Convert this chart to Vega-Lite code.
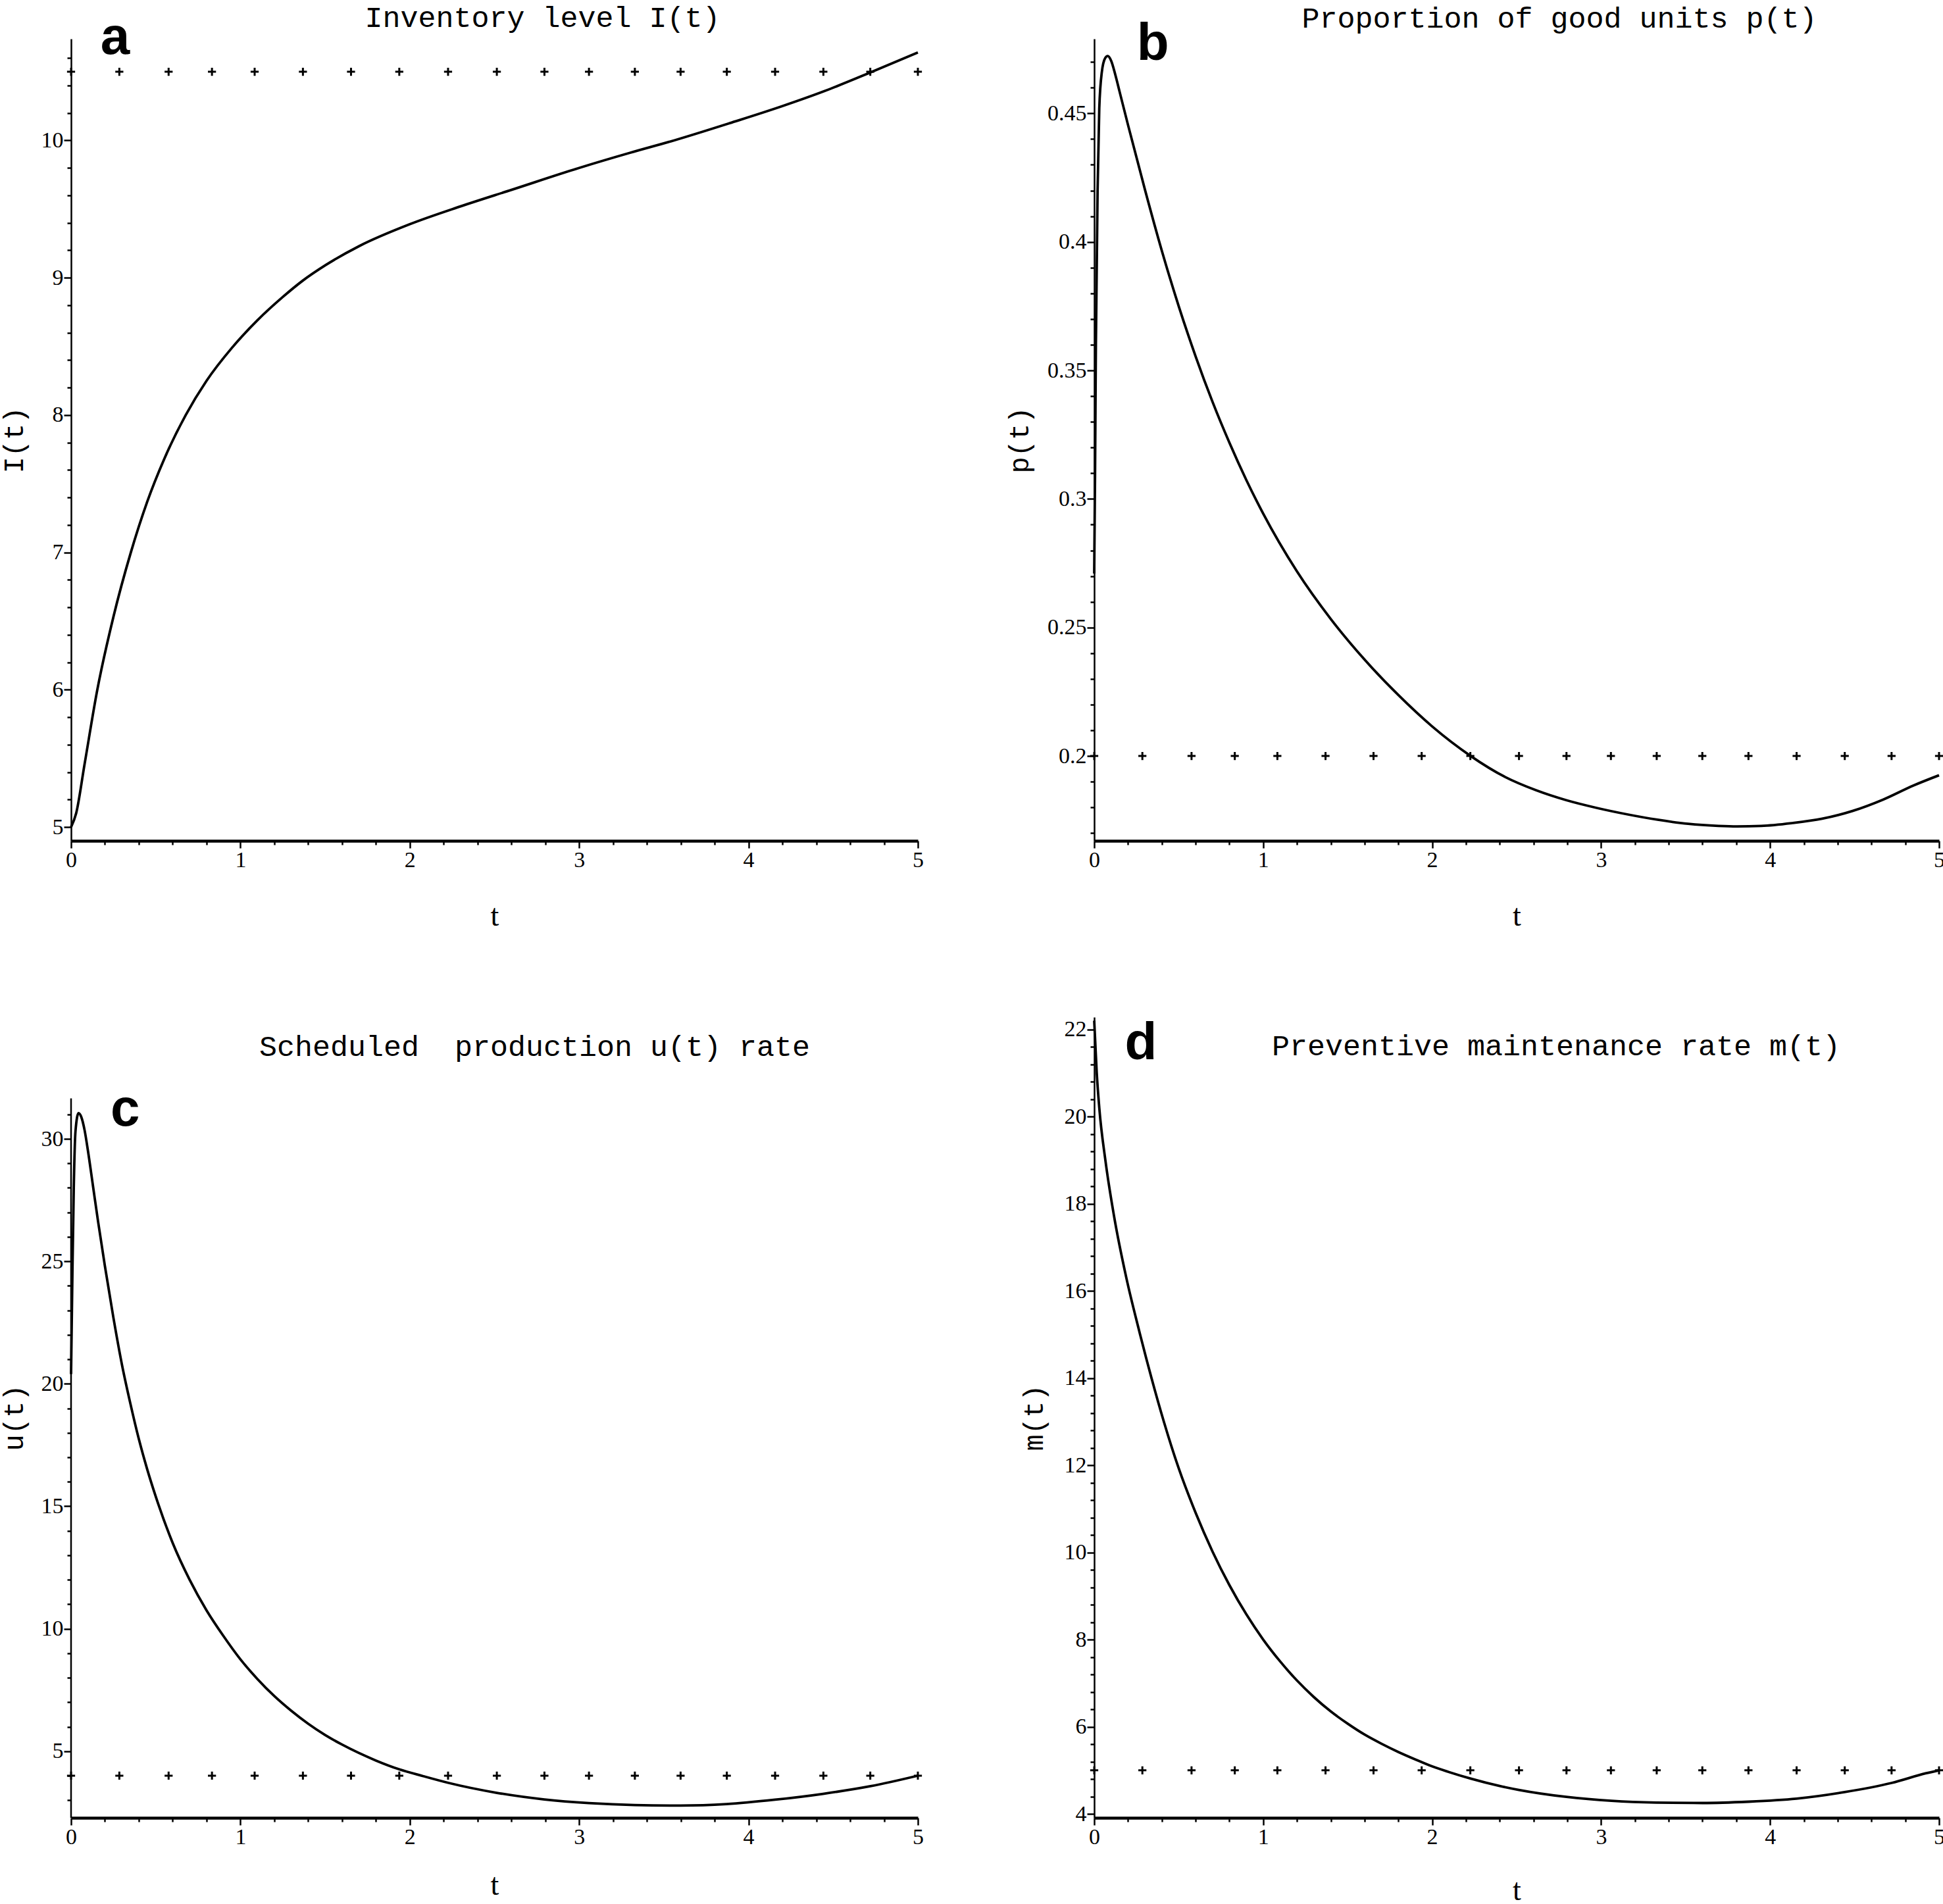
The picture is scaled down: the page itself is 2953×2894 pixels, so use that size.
{
  "$schema": "https://vega.github.io/schema/vega-lite/v6.json",
  "background": "white",
  "padding": {"left": 0, "top": 4, "right": 0, "bottom": 0},
  "columns": 2,
  "spacing": 268,
  "bounds": "flush",
  "config": {
    "view": {"stroke": null},
    "axis": {
      "grid": false,
      "domainColor": "black",
      "tickColor": "black",
      "labelColor": "black",
      "titleColor": "black",
      "labelFont": "Liberation Serif",
      "labelFontSize": 34,
      "labelOverlap": false,
      "labelFlush": false,
      "labelBound": false,
      "tickWidth": 2.5,
      "labelPadding": 1,
      "format": "~g"
    },
    "axisX": {
      "domainWidth": 4.5,
      "titleFont": "Liberation Serif",
      "titleFontSize": 46,
      "titleFontWeight": "normal",
      "titleBaseline": "alphabetic",
      "titleY": 128
    },
    "axisY": {
      "domainWidth": 2.5,
      "titleFont": "Liberation Mono",
      "titleFontSize": 42,
      "titleFontWeight": "normal",
      "titleBaseline": "middle"
    },
    "title": {
      "font": "Liberation Mono",
      "fontSize": 45,
      "fontWeight": "normal",
      "anchor": "middle",
      "frame": "group",
      "baseline": "alphabetic",
      "color": "black"
    }
  },
  "datasets": {
    "curveA": [
      {"t": 0, "v": 5.0}, {"t": 0.03, "v": 5.1}, {"t": 0.08, "v": 5.46}, {"t": 0.155, "v": 6.0}, {"t": 0.25, "v": 6.53},
      {"t": 0.353, "v": 7.0}, {"t": 0.45, "v": 7.37}, {"t": 0.55, "v": 7.68}, {"t": 0.677, "v": 8.0}, {"t": 0.8, "v": 8.25},
      {"t": 0.95, "v": 8.49}, {"t": 1.1, "v": 8.69}, {"t": 1.25, "v": 8.86}, {"t": 1.369, "v": 8.98}, {"t": 1.5, "v": 9.09},
      {"t": 1.7, "v": 9.23}, {"t": 2.0, "v": 9.39}, {"t": 2.3, "v": 9.52}, {"t": 2.6, "v": 9.64}, {"t": 3.0, "v": 9.8},
      {"t": 3.3, "v": 9.91}, {"t": 3.56, "v": 10.0}, {"t": 3.9, "v": 10.13}, {"t": 4.2, "v": 10.25}, {"t": 4.45, "v": 10.36},
      {"t": 4.73, "v": 10.5}, {"t": 5.0, "v": 10.64}
    ],
    "curveB": [
      {"t": 0, "v": 0.271}, {"t": 0.005, "v": 0.31}, {"t": 0.01, "v": 0.36}, {"t": 0.02, "v": 0.42}, {"t": 0.03, "v": 0.452},
      {"t": 0.045, "v": 0.466}, {"t": 0.065, "v": 0.4715}, {"t": 0.08, "v": 0.4723}, {"t": 0.1, "v": 0.4705}, {"t": 0.125, "v": 0.465},
      {"t": 0.15, "v": 0.4585}, {"t": 0.2, "v": 0.4455}, {"t": 0.3, "v": 0.4204}, {"t": 0.4, "v": 0.3966}, {"t": 0.5, "v": 0.375},
      {"t": 0.6, "v": 0.3555}, {"t": 0.7, "v": 0.3378}, {"t": 0.8, "v": 0.3219}, {"t": 0.9, "v": 0.3074}, {"t": 1.0, "v": 0.2943},
      {"t": 1.2, "v": 0.2718}, {"t": 1.4, "v": 0.2533}, {"t": 1.6, "v": 0.2375}, {"t": 1.8, "v": 0.2237}, {"t": 2.0, "v": 0.2115},
      {"t": 2.228, "v": 0.2}, {"t": 2.433, "v": 0.1918}, {"t": 2.614, "v": 0.1867}, {"t": 2.794, "v": 0.1828}, {"t": 2.974, "v": 0.1798},
      {"t": 3.154, "v": 0.1773}, {"t": 3.334, "v": 0.1752}, {"t": 3.515, "v": 0.1736}, {"t": 3.695, "v": 0.1728}, {"t": 3.803, "v": 0.1726},
      {"t": 3.947, "v": 0.1728}, {"t": 4.128, "v": 0.1739}, {"t": 4.308, "v": 0.1756}, {"t": 4.488, "v": 0.1786}, {"t": 4.668, "v": 0.183},
      {"t": 4.848, "v": 0.1885}, {"t": 5.0, "v": 0.1925}
    ],
    "curveC": [
      {"t": 0, "v": 20.4}, {"t": 0.008, "v": 24.5}, {"t": 0.016, "v": 28.0}, {"t": 0.026, "v": 30.3}, {"t": 0.044, "v": 31.05},
      {"t": 0.06, "v": 30.9}, {"t": 0.08, "v": 30.35}, {"t": 0.1, "v": 29.5}, {"t": 0.13, "v": 28.05}, {"t": 0.16, "v": 26.6},
      {"t": 0.2, "v": 24.8}, {"t": 0.25, "v": 22.7}, {"t": 0.3, "v": 20.8}, {"t": 0.35, "v": 19.2}, {"t": 0.4, "v": 17.75},
      {"t": 0.45, "v": 16.5}, {"t": 0.5, "v": 15.4}, {"t": 0.6, "v": 13.5}, {"t": 0.7, "v": 12.0}, {"t": 0.8, "v": 10.75},
      {"t": 0.9, "v": 9.7}, {"t": 1.0, "v": 8.75}, {"t": 1.1, "v": 7.95}, {"t": 1.2, "v": 7.25}, {"t": 1.3, "v": 6.65},
      {"t": 1.4, "v": 6.12}, {"t": 1.5, "v": 5.66}, {"t": 1.6, "v": 5.27}, {"t": 1.8, "v": 4.62}, {"t": 1.938, "v": 4.26},
      {"t": 2.08, "v": 3.98}, {"t": 2.226, "v": 3.71}, {"t": 2.514, "v": 3.3}, {"t": 2.795, "v": 3.03}, {"t": 3.058, "v": 2.88},
      {"t": 3.329, "v": 2.8}, {"t": 3.6, "v": 2.78}, {"t": 3.87, "v": 2.84}, {"t": 4.157, "v": 3.02}, {"t": 4.44, "v": 3.26},
      {"t": 4.72, "v": 3.57}, {"t": 5.0, "v": 4.0}
    ],
    "curveD": [
      {"t": 0, "v": 22.2}, {"t": 0.015, "v": 21.0}, {"t": 0.03, "v": 20.2}, {"t": 0.066, "v": 19.0}, {"t": 0.118, "v": 17.7},
      {"t": 0.19, "v": 16.3}, {"t": 0.265, "v": 15.1}, {"t": 0.339, "v": 14.0}, {"t": 0.412, "v": 13.0}, {"t": 0.5, "v": 11.93},
      {"t": 0.6, "v": 10.91}, {"t": 0.7, "v": 10.02}, {"t": 0.8, "v": 9.25}, {"t": 0.9, "v": 8.58}, {"t": 1.0, "v": 8.0},
      {"t": 1.1, "v": 7.5}, {"t": 1.2, "v": 7.06}, {"t": 1.3, "v": 6.68}, {"t": 1.4, "v": 6.35}, {"t": 1.5, "v": 6.07},
      {"t": 1.6, "v": 5.82}, {"t": 1.7, "v": 5.61}, {"t": 1.8, "v": 5.42}, {"t": 1.9, "v": 5.25}, {"t": 2.0, "v": 5.09},
      {"t": 2.1, "v": 4.96}, {"t": 2.228, "v": 4.81}, {"t": 2.4, "v": 4.64}, {"t": 2.513, "v": 4.55}, {"t": 2.794, "v": 4.39},
      {"t": 3.061, "v": 4.3}, {"t": 3.327, "v": 4.26}, {"t": 3.601, "v": 4.25}, {"t": 3.872, "v": 4.28}, {"t": 4.156, "v": 4.35},
      {"t": 4.441, "v": 4.5}, {"t": 4.719, "v": 4.71}, {"t": 4.92, "v": 4.93}, {"t": 5.0, "v": 5.0}
    ],
    "refA": [
      {"t": 0, "v": 10.5}, {"t": 0.285, "v": 10.5}, {"t": 0.576, "v": 10.5}, {"t": 0.832, "v": 10.5}, {"t": 1.084, "v": 10.5},
      {"t": 1.369, "v": 10.5}, {"t": 1.653, "v": 10.5}, {"t": 1.938, "v": 10.5}, {"t": 2.226, "v": 10.5}, {"t": 2.514, "v": 10.5},
      {"t": 2.795, "v": 10.5}, {"t": 3.058, "v": 10.5}, {"t": 3.329, "v": 10.5}, {"t": 3.599, "v": 10.5}, {"t": 3.872, "v": 10.5},
      {"t": 4.157, "v": 10.5}, {"t": 4.442, "v": 10.5}, {"t": 4.719, "v": 10.5}, {"t": 5.0, "v": 10.5}
    ],
    "refB": [
      {"t": 0, "v": 0.2}, {"t": 0.285, "v": 0.2}, {"t": 0.576, "v": 0.2}, {"t": 0.832, "v": 0.2}, {"t": 1.084, "v": 0.2},
      {"t": 1.369, "v": 0.2}, {"t": 1.653, "v": 0.2}, {"t": 1.938, "v": 0.2}, {"t": 2.226, "v": 0.2}, {"t": 2.514, "v": 0.2},
      {"t": 2.795, "v": 0.2}, {"t": 3.058, "v": 0.2}, {"t": 3.329, "v": 0.2}, {"t": 3.599, "v": 0.2}, {"t": 3.872, "v": 0.2},
      {"t": 4.157, "v": 0.2}, {"t": 4.442, "v": 0.2}, {"t": 4.719, "v": 0.2}, {"t": 5.0, "v": 0.2}
    ],
    "refC": [
      {"t": 0, "v": 4}, {"t": 0.285, "v": 4}, {"t": 0.576, "v": 4}, {"t": 0.832, "v": 4}, {"t": 1.084, "v": 4},
      {"t": 1.369, "v": 4}, {"t": 1.653, "v": 4}, {"t": 1.938, "v": 4}, {"t": 2.226, "v": 4}, {"t": 2.514, "v": 4},
      {"t": 2.795, "v": 4}, {"t": 3.058, "v": 4}, {"t": 3.329, "v": 4}, {"t": 3.599, "v": 4}, {"t": 3.872, "v": 4},
      {"t": 4.157, "v": 4}, {"t": 4.442, "v": 4}, {"t": 4.719, "v": 4}, {"t": 5.0, "v": 4}
    ],
    "refD": [
      {"t": 0, "v": 5}, {"t": 0.285, "v": 5}, {"t": 0.576, "v": 5}, {"t": 0.832, "v": 5}, {"t": 1.084, "v": 5},
      {"t": 1.369, "v": 5}, {"t": 1.653, "v": 5}, {"t": 1.938, "v": 5}, {"t": 2.226, "v": 5}, {"t": 2.514, "v": 5},
      {"t": 2.795, "v": 5}, {"t": 3.058, "v": 5}, {"t": 3.329, "v": 5}, {"t": 3.599, "v": 5}, {"t": 3.872, "v": 5},
      {"t": 4.157, "v": 5}, {"t": 4.442, "v": 5}, {"t": 4.719, "v": 5}, {"t": 5.0, "v": 5}
    ]
  },
  "concat": [
    {
      "width": 1287,
      "height": 1219,
      "title": {"text": "Inventory level I(t)", "dx": 73, "offset": -32},
      "layer": [
        {"data": {"name": "curveA"},
          "mark": {"type": "line", "color": "black", "strokeWidth": 3.8, "interpolate": "monotone"},
          "encoding": {
            "x": {"field": "t", "type": "quantitative", "scale": {"domain": [0, 5], "nice": false, "zero": false},
              "axis": {"title": "t", "labelOverlap": false,
                "values": [0, 0.2, 0.4, 0.6, 0.8, 1, 1.2, 1.4, 1.6, 1.8, 2, 2.2, 2.4, 2.6, 2.8, 3, 3.2, 3.4, 3.6, 3.8, 4, 4.2, 4.4, 4.6, 4.8, 5],
                "labelExpr": "abs(datum.value - round(datum.value)) < 0.001 ? datum.label : ''",
                "tickSize": {"condition": {"test": "abs(datum.value - round(datum.value)) < 0.001", "value": 11}, "value": 6}}},
            "y": {"field": "v", "type": "quantitative", "scale": {"domain": [4.9, 10.74], "nice": false, "zero": false},
              "axis": {"title": "I(t)", "titleX": -87, "labelOverlap": false,
                "values": [5, 5.2, 5.4, 5.6, 5.8, 6, 6.2, 6.4, 6.6, 6.8, 7, 7.2, 7.4, 7.6, 7.8, 8, 8.2, 8.4, 8.6, 8.8, 9, 9.2, 9.4, 9.6, 9.8, 10, 10.2, 10.4, 10.6],
                "labelExpr": "abs(datum.value - round(datum.value)) < 0.001 ? datum.label : ''",
                "tickSize": {"condition": {"test": "abs(datum.value - round(datum.value)) < 0.001", "value": 11}, "value": 6}}}
          }},
        {"data": {"name": "refA"},
          "mark": {"type": "point", "shape": "M-1,0H1M0,-1V1", "size": 150, "filled": false, "stroke": "black", "strokeWidth": 3, "opacity": 1},
          "encoding": {"x": {"field": "t", "type": "quantitative"}, "y": {"field": "v", "type": "quantitative"}}},
        {"data": {"values": [{"panel": "a"}]},
          "mark": {"type": "text", "font": "Liberation Sans", "fontSize": 80, "fontWeight": "bold", "fill": "black", "align": "center", "baseline": "alphabetic"},
          "encoding": {"x": {"datum": 0.26}, "y": {"datum": 10.63}, "text": {"field": "panel", "type": "nominal"}}}
      ]
    },
    {
      "width": 1284,
      "height": 1219,
      "title": {"text": "Proportion of good units p(t)", "dx": 65, "offset": -23.5},
      "layer": [
        {"data": {"name": "curveB"},
          "mark": {"type": "line", "color": "black", "strokeWidth": 3.8, "interpolate": "monotone"},
          "encoding": {
            "x": {"field": "t", "type": "quantitative", "scale": {"domain": [0, 5], "nice": false, "zero": false},
              "axis": {"title": "t", "labelOverlap": false,
                "values": [0, 0.2, 0.4, 0.6, 0.8, 1, 1.2, 1.4, 1.6, 1.8, 2, 2.2, 2.4, 2.6, 2.8, 3, 3.2, 3.4, 3.6, 3.8, 4, 4.2, 4.4, 4.6, 4.8, 5],
                "labelExpr": "abs(datum.value - round(datum.value)) < 0.001 ? datum.label : ''",
                "tickSize": {"condition": {"test": "abs(datum.value - round(datum.value)) < 0.001", "value": 11}, "value": 6}}},
            "y": {"field": "v", "type": "quantitative", "scale": {"domain": [0.167, 0.479], "nice": false, "zero": false},
              "axis": {"title": "p(t)", "titleX": -114, "labelOverlap": false,
                "values": [0.17, 0.18, 0.19, 0.2, 0.21, 0.22, 0.23, 0.24, 0.25, 0.26, 0.27, 0.28, 0.29, 0.3, 0.31, 0.32, 0.33, 0.34, 0.35, 0.36, 0.37, 0.38, 0.39, 0.4, 0.41, 0.42, 0.43, 0.44, 0.45, 0.46, 0.47],
                "labelExpr": "abs(datum.value * 20 - round(datum.value * 20)) < 0.001 ? datum.label : ''",
                "tickSize": {"condition": {"test": "abs(datum.value * 20 - round(datum.value * 20)) < 0.001", "value": 11}, "value": 6}}}
          }},
        {"data": {"name": "refB"},
          "mark": {"type": "point", "shape": "M-1,0H1M0,-1V1", "size": 150, "filled": false, "stroke": "black", "strokeWidth": 3, "opacity": 1},
          "encoding": {"x": {"field": "t", "type": "quantitative"}, "y": {"field": "v", "type": "quantitative"}}},
        {"data": {"values": [{"panel": "b"}]},
          "mark": {"type": "text", "font": "Liberation Sans", "fontSize": 80, "fontWeight": "bold", "fill": "black", "align": "center", "baseline": "alphabetic"},
          "encoding": {"x": {"datum": 0.347}, "y": {"datum": 0.4707}, "text": {"field": "panel", "type": "nominal"}}}
      ]
    },
    {
      "width": 1287,
      "height": 1217,
      "title": {"text": "Scheduled \u00a0production u(t) rate", "dx": 61, "offset": -68},
      "layer": [
        {"data": {"values": [{"panel": "c"}]},
          "mark": {"type": "rule", "color": "black", "strokeWidth": 2.5},
          "encoding": {"x": {"datum": 0}, "y": {"datum": 2.28}, "y2": {"datum": 31.65}}},
        {"data": {"name": "curveC"},
          "mark": {"type": "line", "color": "black", "strokeWidth": 3.8, "interpolate": "monotone"},
          "encoding": {
            "x": {"field": "t", "type": "quantitative", "scale": {"domain": [0, 5], "nice": false, "zero": false},
              "axis": {"title": "t", "titleY": 116, "labelOverlap": false,
                "values": [0, 0.2, 0.4, 0.6, 0.8, 1, 1.2, 1.4, 1.6, 1.8, 2, 2.2, 2.4, 2.6, 2.8, 3, 3.2, 3.4, 3.6, 3.8, 4, 4.2, 4.4, 4.6, 4.8, 5],
                "labelExpr": "abs(datum.value - round(datum.value)) < 0.001 ? datum.label : ''",
                "tickSize": {"condition": {"test": "abs(datum.value - round(datum.value)) < 0.001", "value": 11}, "value": 6}}},
            "y": {"field": "v", "type": "quantitative", "scale": {"domain": [2.28, 34.97], "nice": false, "zero": false},
              "axis": {"title": "u(t)", "titleX": -87, "domain": false, "labelOverlap": false,
                "values": [3, 4, 5, 6, 7, 8, 9, 10, 11, 12, 13, 14, 15, 16, 17, 18, 19, 20, 21, 22, 23, 24, 25, 26, 27, 28, 29, 30, 31],
                "labelExpr": "datum.value % 5 === 0 ? datum.label : ''",
                "tickSize": {"condition": {"test": "datum.value % 5 === 0", "value": 11}, "value": 6}}}
          }},
        {"data": {"name": "refC"},
          "mark": {"type": "point", "shape": "M-1,0H1M0,-1V1", "size": 150, "filled": false, "stroke": "black", "strokeWidth": 3, "opacity": 1},
          "encoding": {"x": {"field": "t", "type": "quantitative"}, "y": {"field": "v", "type": "quantitative"}}},
        {"data": {"values": [{"panel": "c"}]},
          "mark": {"type": "text", "font": "Liberation Sans", "fontSize": 80, "fontWeight": "bold", "fill": "black", "align": "center", "baseline": "alphabetic"},
          "encoding": {"x": {"datum": 0.32}, "y": {"datum": 30.54}, "text": {"field": "panel", "type": "nominal"}}}
      ]
    },
    {
      "width": 1284,
      "height": 1217,
      "title": {"text": "Preventive maintenance rate m(t)", "dx": 60, "offset": -69},
      "encoding": {
        "x": {"field": "t", "type": "quantitative", "scale": {"domain": [0, 5], "nice": false, "zero": false},
          "axis": {"title": "t", "titleY": 124, "labelOverlap": false,
            "values": [0, 0.2, 0.4, 0.6, 0.8, 1, 1.2, 1.4, 1.6, 1.8, 2, 2.2, 2.4, 2.6, 2.8, 3, 3.2, 3.4, 3.6, 3.8, 4, 4.2, 4.4, 4.6, 4.8, 5],
            "labelExpr": "abs(datum.value - round(datum.value)) < 0.001 ? datum.label : ''",
            "tickSize": {"condition": {"test": "abs(datum.value - round(datum.value)) < 0.001", "value": 11}, "value": 6}}},
        "y": {"field": "v", "type": "quantitative", "scale": {"domain": [3.91, 22.28], "nice": false, "zero": false},
          "axis": {"title": "m(t)", "titleX": -92, "labelOverlap": false,
            "values": [4, 4.4, 4.8, 5.2, 5.6, 6, 6.4, 6.8, 7.2, 7.6, 8, 8.4, 8.8, 9.2, 9.6, 10, 10.4, 10.8, 11.2, 11.6, 12, 12.4, 12.8, 13.2, 13.6, 14, 14.4, 14.8, 15.2, 15.6, 16, 16.4, 16.8, 17.2, 17.6, 18, 18.4, 18.8, 19.2, 19.6, 20, 20.4, 20.8, 21.2, 21.6, 22],
            "labelExpr": "abs(datum.value / 2 - round(datum.value / 2)) < 0.001 ? datum.label : ''",
            "tickSize": {"condition": {"test": "abs(datum.value / 2 - round(datum.value / 2)) < 0.001", "value": 11}, "value": 6}}}
      },
      "layer": [
        {"data": {"name": "curveD"},
          "mark": {"type": "line", "color": "black", "strokeWidth": 3.8, "interpolate": "monotone"}},
        {"data": {"name": "refD"},
          "mark": {"type": "point", "shape": "M-1,0H1M0,-1V1", "size": 150, "filled": false, "stroke": "black", "strokeWidth": 3, "opacity": 1}},
        {"data": {"values": [{"panel": "d", "t": 0.276, "v": 21.32}]},
          "mark": {"type": "text", "font": "Liberation Sans", "fontSize": 80, "fontWeight": "bold", "fill": "black", "align": "center", "baseline": "alphabetic"},
          "encoding": {"text": {"field": "panel", "type": "nominal"}}}
      ]
    }
  ]
}
